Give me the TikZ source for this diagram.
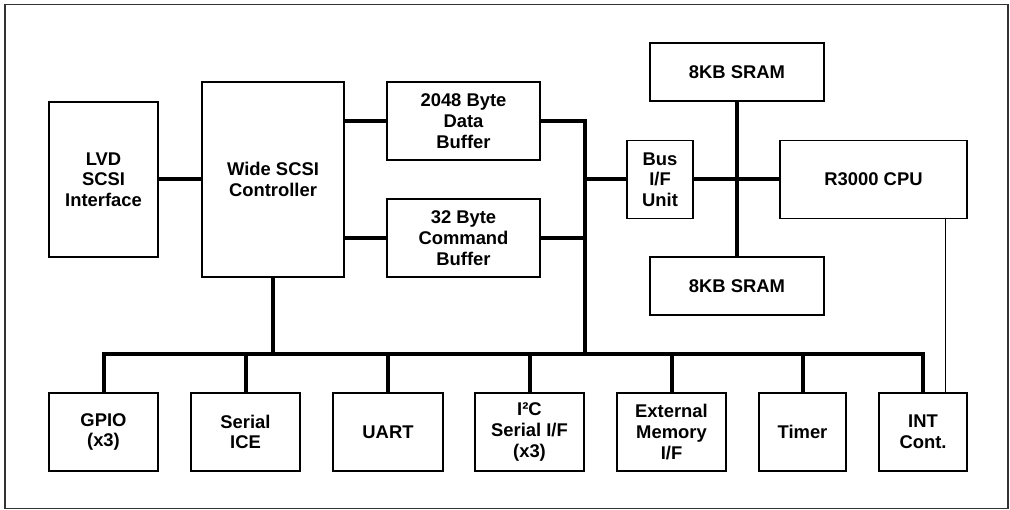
\documentclass[tikz,border=0pt]{standalone}
\usepackage{fontspec}
\setmainfont{Liberation Sans}
\begin{document}
\begin{tikzpicture}[x=1pt,y=-1pt,
  blk/.style={draw, line width=1.3pt, align=center, inner sep=0pt,
    font=\bfseries\fontsize{18.4}{20.7}\selectfont},
  bus/.style={line width=4pt},
  thin/.style={line width=1pt}]
\useasboundingbox (0,0) rectangle (1010,510);
\draw[line width=1.2pt, black!80] (5,4.5) rectangle (1008,508.5);
% top half
\node[blk, minimum width=109pt, minimum height=155pt] (lvd) at (103.5,179.5) {LVD\\SCSI\\Interface};
\node[blk, minimum width=142pt, minimum height=195pt] (wscsi) at (273,179.5) {Wide SCSI\\Controller};
\node[blk, minimum width=153pt, minimum height=78pt] (dbuf) at (463.5,121) {2048 Byte\\Data\\Buffer};
\node[blk, minimum width=153pt, minimum height=78pt] (cbuf) at (463.5,238) {32 Byte\\Command\\Buffer};
\node[blk, minimum width=66pt, minimum height=78pt] (bif) at (660,179.5) {Bus\\I/F\\Unit};
\node[blk, minimum width=174pt, minimum height=58pt] (sramT) at (737,72) {8KB SRAM};
\node[blk, minimum width=174pt, minimum height=58pt] (sramB) at (737,286) {8KB SRAM};
\node[blk, minimum width=187pt, minimum height=78pt] (cpu) at (873.5,179.5) {R3000 CPU};
% bottom row
\node[blk, minimum width=109pt, minimum height=78pt] (gpio) at (103.5,432) {GPIO\\(x3)};
\node[blk, minimum width=109pt, minimum height=78pt] (ice) at (245.5,432) {Serial\\ICE};
\node[blk, minimum width=110pt, minimum height=78pt] (uart) at (388,432) {UART};
\node[blk, minimum width=109pt, minimum height=78pt] (i2c) at (529.5,432) {I²C\\Serial I/F\\(x3)};
\node[blk, minimum width=109pt, minimum height=78pt] (ext) at (671.5,432) {External\\Memory\\I/F};
\node[blk, minimum width=87pt, minimum height=78pt] (timer) at (802.5,432) {Timer};
\node[blk, minimum width=88pt, minimum height=78pt] (int) at (923,432) {INT\\Cont.};
% coordinates
\coordinate (busTop) at (585,121);
\coordinate (busY) at (585,354);
\coordinate (cross) at (737,179.5);
% connectors
\draw[bus] (lvd) -- (wscsi);
\draw[bus] (wscsi.east |- dbuf.west) -- (dbuf.west);
\draw[bus] (wscsi.east |- cbuf.west) -- (cbuf.west);
\draw[bus] (dbuf.east) -- (busTop) -- (busY);
\draw[bus] (cbuf.east) -- (cbuf.east -| busTop);
\draw[bus] (bif.west -| busTop) -- (bif.west);
\draw[bus] (bif.east) -- (cpu.west);
\draw[bus] (sramT.south) -- (sramB.north);
\draw[bus] (wscsi.south) -- (wscsi.south |- busY);
\draw[bus] (gpio.north) -- (gpio.north |- busY) -- (int.north |- busY) -- (int.north);
\foreach \n in {ice,uart,i2c,ext,timer}
  \draw[bus] (\n.north) -- (\n.north |- busY);
\draw[thin] (cpu.south -| 945,0) -- (int.north -| 945,0);
\end{tikzpicture}
\end{document}
